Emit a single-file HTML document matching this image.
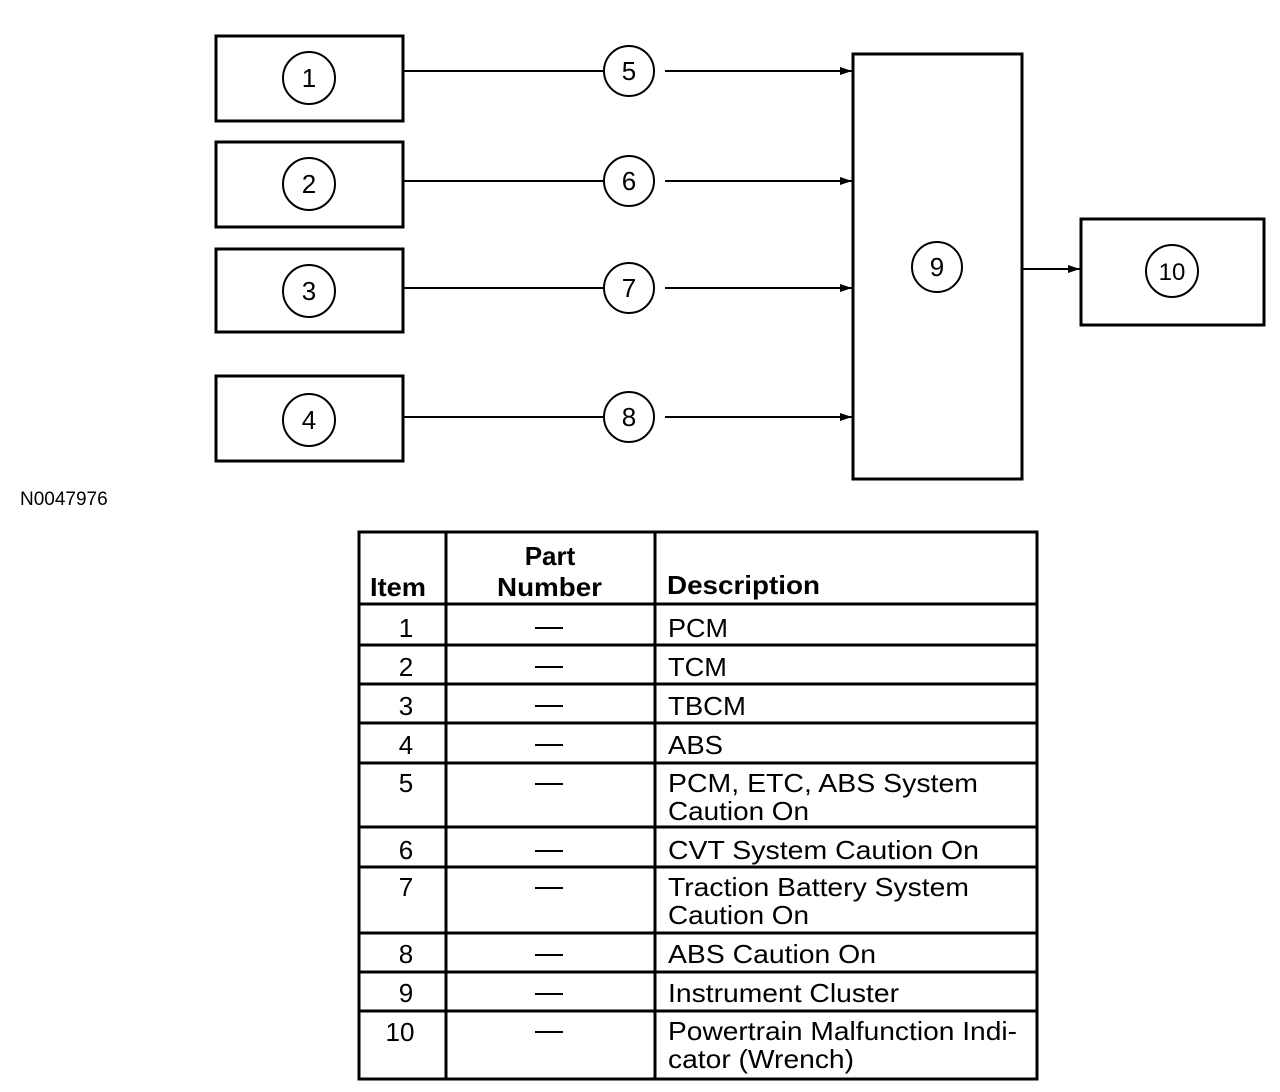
<!DOCTYPE html>
<html><head><meta charset="utf-8"><style>html,body{margin:0;padding:0;background:#fff}svg{display:block}</style></head><body>
<svg width="1280" height="1092" viewBox="0 0 1280 1092" xmlns="http://www.w3.org/2000/svg" font-family="Liberation Sans, sans-serif">
<defs><marker id="a" markerWidth="12" markerHeight="8" refX="12" refY="4" orient="auto" markerUnits="userSpaceOnUse"><path d="M0,0 L12,4 L0,8 z" fill="#000"/></marker></defs>
<g fill="none" stroke="#000" stroke-width="3">
<rect x="216" y="36" width="187" height="85"/>
<rect x="216" y="142" width="187" height="85"/>
<rect x="216" y="249" width="187" height="83"/>
<rect x="216" y="376" width="187" height="85"/>
<rect x="853" y="54" width="169" height="425"/>
<rect x="1081" y="219" width="183" height="106"/>
</g>
<g fill="none" stroke="#000" stroke-width="2">
<circle cx="309" cy="78" r="26"/><circle cx="309" cy="184" r="26"/><circle cx="309" cy="291" r="26"/><circle cx="309" cy="420" r="26"/>
<circle cx="629" cy="71" r="25"/><circle cx="629" cy="181" r="25"/><circle cx="629" cy="288" r="25"/><circle cx="629" cy="417" r="25"/>
<circle cx="937" cy="267" r="25"/><circle cx="1172" cy="271" r="26"/>
<line x1="403" y1="71" x2="603" y2="71"/><line x1="665" y1="71" x2="852" y2="71" marker-end="url(#a)"/>
<line x1="403" y1="181" x2="603" y2="181"/><line x1="665" y1="181" x2="852" y2="181" marker-end="url(#a)"/>
<line x1="403" y1="288" x2="603" y2="288"/><line x1="665" y1="288" x2="852" y2="288" marker-end="url(#a)"/>
<line x1="403" y1="417" x2="603" y2="417"/><line x1="665" y1="417" x2="852" y2="417" marker-end="url(#a)"/>
<line x1="1022" y1="269" x2="1080" y2="269" marker-end="url(#a)"/>
</g>
<g font-size="26" text-anchor="middle">
<text x="309" y="87">1</text><text x="309" y="193">2</text><text x="309" y="300">3</text><text x="309" y="429">4</text>
<text x="629" y="80">5</text><text x="629" y="190">6</text><text x="629" y="297">7</text><text x="629" y="426">8</text>
<text x="937" y="276">9</text><text x="1172" y="280" font-size="24">10</text>
</g>
<text x="20" y="505" font-size="19">N0047976</text>
<g fill="none" stroke="#000" stroke-width="3">
<rect x="359" y="532" width="678" height="547"/>
<line x1="446" y1="532" x2="446" y2="1079"/><line x1="655" y1="532" x2="655" y2="1079"/>
<line x1="359" y1="604" x2="1037" y2="604"/><line x1="359" y1="645" x2="1037" y2="645"/>
<line x1="359" y1="684" x2="1037" y2="684"/><line x1="359" y1="723" x2="1037" y2="723"/>
<line x1="359" y1="763" x2="1037" y2="763"/><line x1="359" y1="827" x2="1037" y2="827"/>
<line x1="359" y1="867" x2="1037" y2="867"/><line x1="359" y1="933" x2="1037" y2="933"/>
<line x1="359" y1="972" x2="1037" y2="972"/><line x1="359" y1="1011" x2="1037" y2="1011"/>
</g>
<g font-size="26" font-weight="bold">
<text x="370" y="596" textLength="56" lengthAdjust="spacingAndGlyphs">Item</text>
<text x="550" y="565" text-anchor="middle">Part</text>
<text x="497" y="596" textLength="105" lengthAdjust="spacingAndGlyphs">Number</text>
<text x="667" y="594" textLength="153" lengthAdjust="spacingAndGlyphs">Description</text>
</g>
<g font-size="26" text-anchor="middle">
<text x="406" y="637">1</text><text x="406" y="676">2</text><text x="406" y="715">3</text><text x="406" y="754">4</text>
<text x="406" y="792">5</text><text x="406" y="859">6</text><text x="406" y="896">7</text><text x="406" y="963">8</text>
<text x="406" y="1002">9</text><text x="400" y="1041">10</text>
</g>
<g stroke="#000" stroke-width="2">
<line x1="535" y1="628" x2="563" y2="628"/><line x1="535" y1="667" x2="563" y2="667"/><line x1="535" y1="706" x2="563" y2="706"/><line x1="535" y1="745" x2="563" y2="745"/>
<line x1="535" y1="784" x2="563" y2="784"/><line x1="535" y1="851" x2="563" y2="851"/><line x1="535" y1="888" x2="563" y2="888"/><line x1="535" y1="955" x2="563" y2="955"/>
<line x1="535" y1="994" x2="563" y2="994"/><line x1="535" y1="1032" x2="563" y2="1032"/>
</g>
<g font-size="26" lengthAdjust="spacingAndGlyphs">
<text x="668" y="637" textLength="60" lengthAdjust="spacingAndGlyphs">PCM</text>
<text x="668" y="676" textLength="59" lengthAdjust="spacingAndGlyphs">TCM</text>
<text x="668" y="715" textLength="78" lengthAdjust="spacingAndGlyphs">TBCM</text>
<text x="668" y="754" textLength="55" lengthAdjust="spacingAndGlyphs">ABS</text>
<text x="668" y="792" textLength="310" lengthAdjust="spacingAndGlyphs">PCM, ETC, ABS System</text>
<text x="668" y="820" textLength="141" lengthAdjust="spacingAndGlyphs">Caution On</text>
<text x="668" y="859" textLength="311" lengthAdjust="spacingAndGlyphs">CVT System Caution On</text>
<text x="668" y="896" textLength="301" lengthAdjust="spacingAndGlyphs">Traction Battery System</text>
<text x="668" y="924" textLength="141" lengthAdjust="spacingAndGlyphs">Caution On</text>
<text x="668" y="963" textLength="208" lengthAdjust="spacingAndGlyphs">ABS Caution On</text>
<text x="668" y="1002" textLength="231" lengthAdjust="spacingAndGlyphs">Instrument Cluster</text>
<text x="668" y="1040" textLength="349" lengthAdjust="spacingAndGlyphs">Powertrain Malfunction Indi-</text>
<text x="668" y="1068" textLength="186" lengthAdjust="spacingAndGlyphs">cator (Wrench)</text>
</g>
</svg>
</body></html>
